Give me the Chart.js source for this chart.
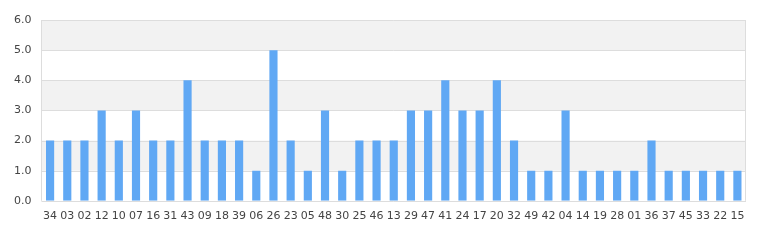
<!DOCTYPE html>
<html><head><meta charset="utf-8">
<script src="https://cdn.jsdelivr.net/npm/chart.js@4"></script>
<style>html,body{margin:0;padding:0;background:#fff}#wrap{width:775px;height:240px}</style>
</head><body><div id="wrap"><canvas id="c" width="775" height="240"></canvas></div>
<script>
const categories = ["34","03","02","12","10","07","16","31","43","09","18","39","06","26","23","05","48","30","25","46","13","29","47","41","24","17","20","32","49","42","04","14","19","28","01","36","37","45","33","22","15"];
const values = [2,2,2,3,2,3,2,2,4,2,2,2,1,5,2,1,3,1,2,2,2,3,3,4,3,3,4,2,1,1,3,1,1,1,1,2,1,1,1,1,1];
const yTicks = [0,1,2,3,4,5,6];

const bands = {
  id: 'bands',
  beforeDatasetsDraw(chart) {
    const {ctx, chartArea: a, scales: {y}} = chart;
    ctx.save();
    for (let i = 0; i < yTicks.length - 1; i++) {
      if (i % 2 === 1) {
        const top = y.getPixelForValue(yTicks[i+1]);
        const bot = y.getPixelForValue(yTicks[i]);
        ctx.fillStyle = '#f2f2f2';
        ctx.fillRect(a.left, top, a.right - a.left, bot - top);
      }
    }
    ctx.strokeStyle = '#dddddd';
    ctx.lineWidth = 1;
    for (const t of yTicks) {
      const py = Math.round(y.getPixelForValue(t)) + 0.5;
      ctx.beginPath(); ctx.moveTo(a.left, py); ctx.lineTo(a.right, py); ctx.stroke();
    }
    ctx.beginPath();
    ctx.moveTo(Math.round(a.left)+0.5, a.top); ctx.lineTo(Math.round(a.left)+0.5, a.bottom);
    ctx.moveTo(Math.round(a.right)-0.5, a.top); ctx.lineTo(Math.round(a.right)-0.5, a.bottom);
    ctx.stroke();
    ctx.restore();
  }
};

new Chart(document.getElementById('c'), {
  type: 'bar',
  data: { labels: categories, datasets: [{ data: values, backgroundColor: '#60a8f4', barPercentage: 0.95, categoryPercentage: 0.5 }] },
  options: {
    responsive: false, animation: false, devicePixelRatio: 1,
    layout: { padding: { left: 4, right: 29, top: 20, bottom: 8 } },
    plugins: { legend: { display: false }, tooltip: { enabled: false } },
    scales: {
      x: {
        grid: { display: false, drawTicks: false },
        border: { display: false },
        ticks: { color: '#444', font: { family: 'DejaVu Sans', size: 11 }, padding: 9, maxRotation: 0, autoSkip: false }
      },
      y: {
        min: 0, max: 6,
        grid: { display: false, drawTicks: false },
        border: { display: false },
        ticks: { stepSize: 1, color: '#444', font: { family: 'DejaVu Sans', size: 11 }, padding: 10, callback: v => v.toFixed(1) }
      }
    }
  },
  plugins: [bands]
});
</script></body></html>
